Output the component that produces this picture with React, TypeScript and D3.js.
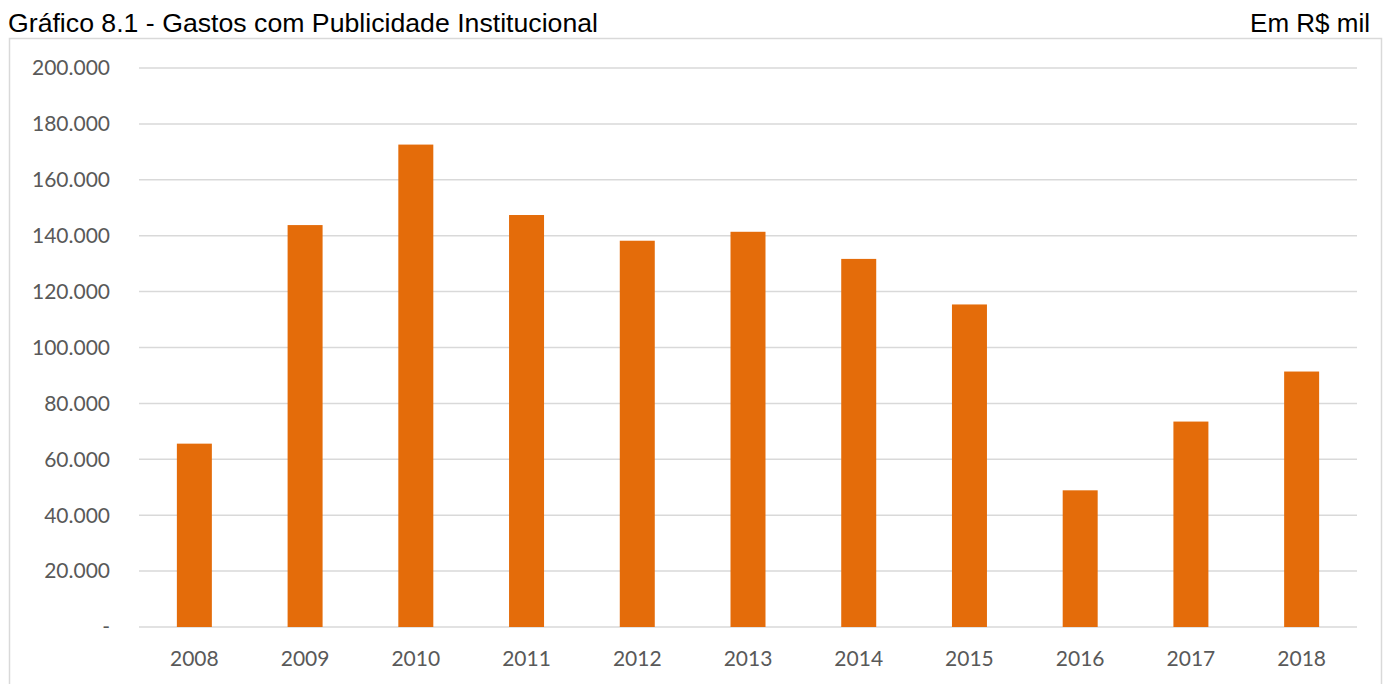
import React from "react";
import * as d3 from "d3";

const years = ["2008","2009","2010","2011","2012","2013","2014","2015","2016","2017","2018"];
const values = [65600, 143800, 172600, 147400, 138200, 141400, 131700, 115400, 48900, 73500, 91400];
const yTicks = [0, 20000, 40000, 60000, 80000, 100000, 120000, 140000, 160000, 180000, 200000];

const fmt = (v: number) => (v === 0 ? "-" : d3.format(",")(v).replace(/,/g, "."));

export default function App() {
  const W = 1389, H = 684;
  const x = d3.scaleBand<string>().domain(years).range([139, 1357]).paddingInner(0.684).paddingOuter(0.342);
  const y = d3.scaleLinear().domain([0, 200000]).range([627, 68]);
  return (
    <svg width={W} height={H} style={{ position: "absolute", left: 0, top: 0, background: "#fff" }}>
      <text x={8} y={32} fontFamily="Liberation Sans, Arial" fontSize={26} textLength={590} lengthAdjust="spacingAndGlyphs" fill="#000">
        Gráfico 8.1 - Gastos com Publicidade Institucional
      </text>
      <text x={1370} y={32} textAnchor="end" fontFamily="Liberation Sans, Arial" fontSize={26} fill="#000">
        Em R$ mil
      </text>
      <rect x={9.5} y={38.5} width={1372} height={700} fill="none" stroke="#D9D9D9" strokeWidth={1.5} />
      {yTicks.map((t) => (
        <g key={t}>
          <line x1={139} x2={1357} y1={y(t)} y2={y(t)} stroke="#D9D9D9" strokeWidth={1.5} />
          <text x={110} y={y(t)} dy="0.35em" textAnchor="end" fontFamily="Lato" fontSize={21} fill="#595959">
            {fmt(t)}
          </text>
        </g>
      ))}
      {years.map((yr, i) => (
        <rect key={yr} x={x(yr)} y={y(values[i])} width={x.bandwidth()} height={y(0) - y(values[i])} fill="#E46C0A" />
      ))}
      {years.map((yr) => (
        <text key={yr} x={(x(yr) as number) + x.bandwidth() / 2} y={666} textAnchor="middle" fontFamily="Lato" fontSize={21} fill="#595959">
          {yr}
        </text>
      ))}
    </svg>
  );
}
